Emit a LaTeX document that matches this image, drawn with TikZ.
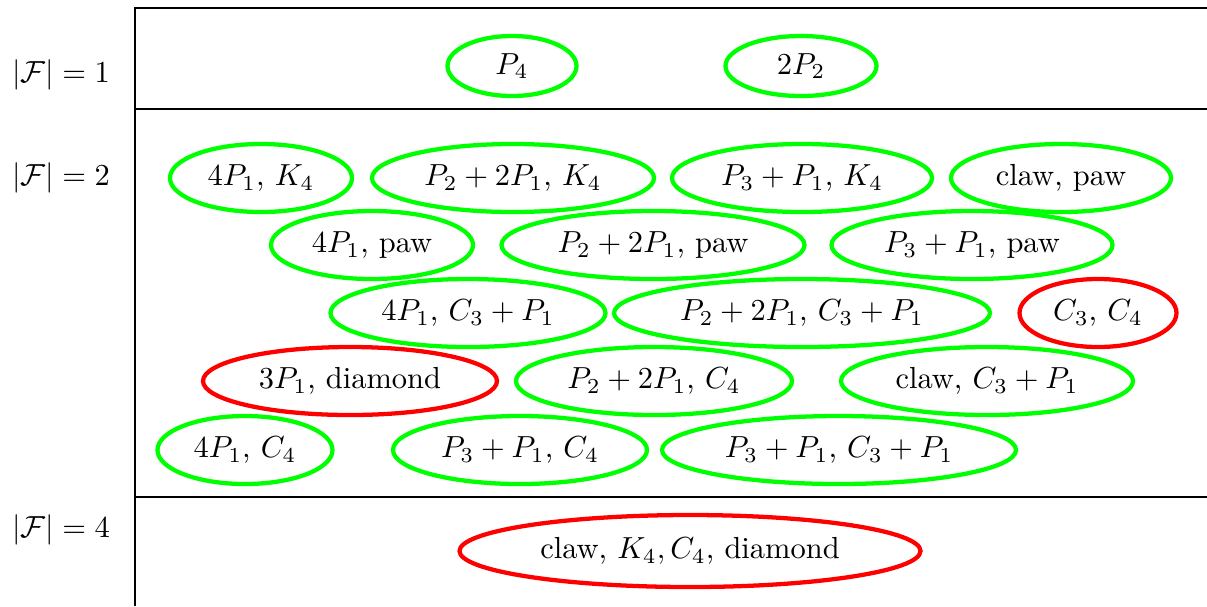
\documentclass[tikz,border=0pt]{standalone}
\usepackage{amsmath,amssymb}
\usepackage{xcolor}
\usetikzlibrary{shapes.geometric}
\def\px{0.328pt}
\tikzset{
  rule/.style={draw=black, line width=0.5pt},
  famlabel/.style={inner sep=0pt},
  fam/.style 2 args={ellipse, draw=#1, line width=1.4pt, inner sep=0pt, minimum height=#2*\px},
  good/.style={fam={green}{68}, minimum width=#1*\px},
  bad/.style={fam={red}{68}, minimum width=#1*\px},
}
\def\rA{66}
\def\rB{178}
\def\rC{245}
\def\rD{313}
\def\rE{381}
\def\rF{450}
\def\rG{551}
\begin{document}
\begin{tikzpicture}[x=\px, y=-\px]
  \useasboundingbox (0,0) rectangle (1207,606);
  \coordinate (tl) at (135,8);   \coordinate (tr) at (1207,8);
  \coordinate (ml) at (135,109); \coordinate (mr) at (1207,109);
  \coordinate (nl) at (135,497); \coordinate (nr) at (1207,497);
  \coordinate (bl) at (135,606);
  \draw[rule] (tr) -- (tl) -- (bl);
  \draw[rule] (ml) -- (mr);
  \draw[rule] (nl) -- (nr);
  \node[famlabel] (one) at (61,75) {$|\mathcal{F}|=1$};
  \node[famlabel] (two) at (61,178) {$|\mathcal{F}|=2$};
  \node[famlabel] (four) at (61,530) {$|\mathcal{F}|=4$};
  % |F| = 1
  \node[good=129, minimum height=60*\px] (p4) at (512,\rA) {$P_4$};
  \node[good=151, minimum height=60*\px] (twop2) at (801,\rA) {$2P_2$};
  % |F| = 2
  \node[good=182] (a1) at (261,\rB) {$4P_1$, $K_4$};
  \node[good=282] (a2) at (513,\rB) {$P_2+2P_1$, $K_4$};
  \node[good=260] (a3) at (802,\rB) {$P_3+P_1$, $K_4$};
  \node[good=220] (a4) at (1061,\rB) {claw, paw};
  \node[good=202] (b1) at (372,\rC) {$4P_1$, paw};
  \node[good=303] (b2) at (653,\rC) {$P_2+2P_1$, paw};
  \node[good=281] (b3) at (972,\rC) {$P_3+P_1$, paw};
  \node[good=275] (c1) at (468,\rD) {$4P_1$, $C_3+P_1$};
  \node[good=376] (c2) at (802,\rD) {$P_2+2P_1$, $C_3+P_1$};
  \node[bad=157] (c3) at (1098,\rD) {$C_3$, $C_4$};
  \node[bad=294] (d1) at (350,\rE) {$3P_1$, diamond};
  \node[good=276] (d2) at (654,\rE) {$P_2+2P_1$, $C_4$};
  \node[good=292] (d3) at (987,\rE) {claw, $C_3+P_1$};
  \node[good=175] (e1) at (245,\rF) {$4P_1$, $C_4$};
  \node[good=254] (e2) at (520,\rF) {$P_3+P_1$, $C_4$};
  \node[good=354] (e3) at (839,\rF) {$P_3+P_1$, $C_3+P_1$};
  % |F| = 4
  \node[bad=461, minimum height=72*\px] (g1) at (690,\rG) {claw, $K_4,C_4$, diamond};
\end{tikzpicture}
\end{document}
